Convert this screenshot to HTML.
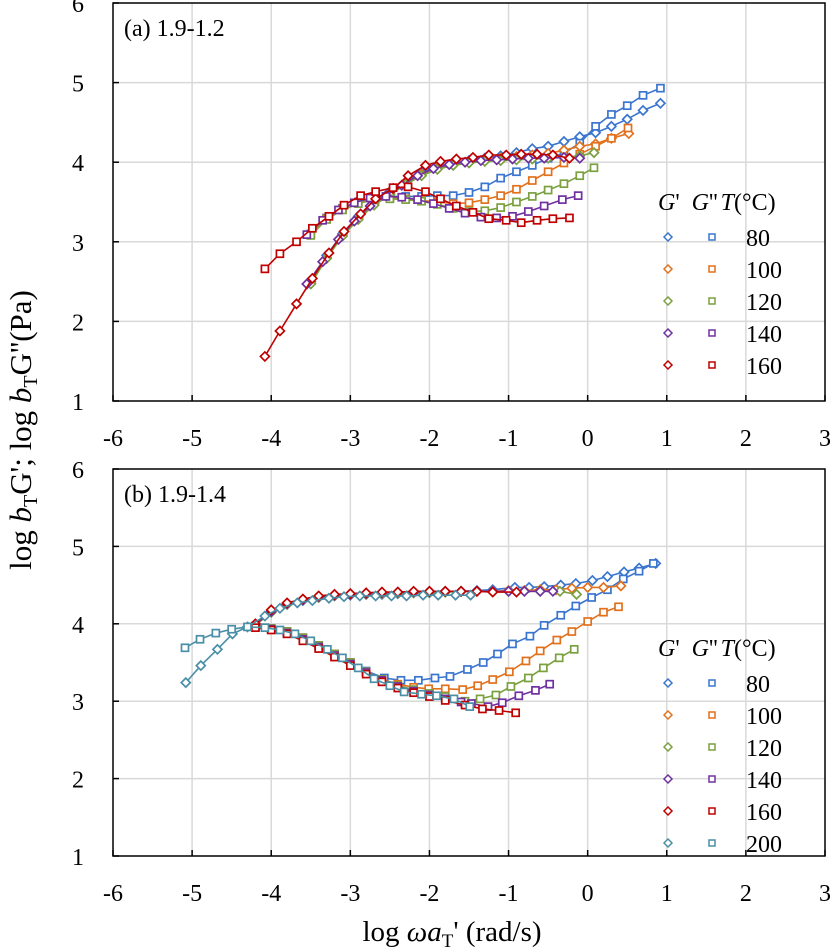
<!DOCTYPE html>
<html><head><meta charset="utf-8">
<style>
html,body{margin:0;padding:0;background:#fff;}
svg{display:block;font-family:"Liberation Serif",serif;}
</style></head>
<body>
<svg id="chart" width="831" height="949" viewBox="0 0 831 949" xmlns="http://www.w3.org/2000/svg">
<text transform="translate(31,430) rotate(-90)" text-anchor="middle" font-size="31">log <tspan font-style="italic">b</tspan><tspan font-size="20" dy="6">T</tspan><tspan dy="-6">G'; log </tspan><tspan font-style="italic">b</tspan><tspan font-size="20" dy="6">T</tspan><tspan dy="-6">G''(Pa)</tspan></text>
<text x="452" y="941" text-anchor="middle" font-size="29">log <tspan font-style="italic">ωa</tspan><tspan font-size="19" dy="6">T</tspan><tspan dy="-6">' (rad/s)</tspan></text>
</svg>
<script>
// ---- data ----
const xTicks = [-6,-5,-4,-3,-2,-1,0,1,2,3];
const yTicks = [1,2,3,4,5,6];
const temps = ["80","100","120","140","160","200"];
const colors = ["#3a75cf","#e2711d","#7aa03f","#7030a0","#c00000","#4a8fa6"];

// Panel (a) 1.9-1.2
const a80Gp  = [[-3.5,2.5],[-3.3,2.83],[-3.1,3.1],[-2.9,3.32],[-2.7,3.5],[-2.5,3.62],[-2.3,3.75],[-2.1,3.87],[-1.9,3.95],[-1.7,3.99],[-1.5,4.02],[-1.3,4.05],[-1.1,4.08],[-0.9,4.12],[-0.7,4.17],[-0.5,4.2],[-0.3,4.26],[-0.1,4.32],[0.1,4.37],[0.3,4.45],[0.5,4.54],[0.7,4.65],[0.92,4.74]];
const a80Gpp = [[-3.5,3.1],[-3.3,3.3],[-3.1,3.42],[-2.9,3.5],[-2.7,3.55],[-2.5,3.57],[-2.3,3.57],[-2.1,3.57],[-1.9,3.58],[-1.7,3.58],[-1.5,3.62],[-1.3,3.69],[-1.1,3.8],[-0.9,3.88],[-0.7,3.96],[-0.5,4.05],[-0.3,4.11],[-0.1,4.24],[0.1,4.45],[0.3,4.6],[0.5,4.71],[0.7,4.84],[0.92,4.93]];
const a100Gp  = [[-3.5,2.48],[-3.3,2.8],[-3.1,3.08],[-2.9,3.3],[-2.7,3.48],[-2.5,3.6],[-2.3,3.73],[-2.1,3.85],[-1.9,3.93],[-1.7,3.98],[-1.5,4.01],[-1.3,4.03],[-1.1,4.05],[-0.9,4.07],[-0.7,4.09],[-0.5,4.11],[-0.3,4.15],[-0.1,4.2],[0.1,4.23],[0.3,4.3],[0.52,4.36]];
const a100Gpp = [[-3.5,3.09],[-3.3,3.29],[-3.1,3.41],[-2.9,3.49],[-2.7,3.54],[-2.5,3.55],[-2.3,3.54],[-2.1,3.52],[-1.9,3.5],[-1.7,3.48],[-1.5,3.49],[-1.3,3.53],[-1.1,3.58],[-0.9,3.66],[-0.7,3.77],[-0.5,3.88],[-0.3,3.99],[-0.1,4.1],[0.1,4.2],[0.3,4.3],[0.51,4.43]];
const a120Gp  = [[-3.5,2.47],[-3.3,2.79],[-3.1,3.07],[-2.9,3.28],[-2.7,3.46],[-2.5,3.59],[-2.3,3.72],[-2.1,3.83],[-1.9,3.91],[-1.7,3.96],[-1.5,3.99],[-1.3,4.01],[-1.1,4.02],[-0.9,4.03],[-0.7,4.04],[-0.5,4.05],[-0.3,4.06],[-0.1,4.08],[0.08,4.12]];
const a120Gpp = [[-3.5,3.08],[-3.3,3.28],[-3.1,3.4],[-2.9,3.48],[-2.7,3.53],[-2.5,3.54],[-2.3,3.53],[-2.1,3.51],[-1.9,3.47],[-1.7,3.42],[-1.5,3.38],[-1.3,3.39],[-1.1,3.43],[-0.9,3.5],[-0.7,3.57],[-0.5,3.65],[-0.3,3.73],[-0.1,3.83],[0.08,3.93]];
const a140Gp  = [[-3.55,2.47],[-3.35,2.75],[-3.15,3.03],[-2.95,3.26],[-2.75,3.45],[-2.55,3.58],[-2.35,3.71],[-2.15,3.83],[-1.95,3.92],[-1.75,3.97],[-1.55,4.0],[-1.35,4.02],[-1.15,4.03],[-0.95,4.04],[-0.75,4.05],[-0.55,4.05],[-0.3,4.06],[-0.1,4.05]];
const a140Gpp = [[-3.55,3.09],[-3.35,3.27],[-3.15,3.4],[-2.95,3.49],[-2.75,3.55],[-2.55,3.57],[-2.35,3.56],[-2.15,3.53],[-1.95,3.48],[-1.75,3.42],[-1.55,3.36],[-1.35,3.31],[-1.15,3.3],[-0.95,3.32],[-0.75,3.38],[-0.55,3.45],[-0.32,3.53],[-0.12,3.58]];
const a160Gp  = [[-4.08,1.56],[-3.89,1.88],[-3.68,2.22],[-3.48,2.54],[-3.27,2.86],[-3.08,3.13],[-2.87,3.35],[-2.68,3.54],[-2.46,3.67],[-2.27,3.83],[-2.05,3.96],[-1.86,4.01],[-1.66,4.04],[-1.45,4.06],[-1.25,4.09],[-1.03,4.09],[-0.84,4.1],[-0.64,4.1],[-0.44,4.09],[-0.23,4.05]];
const a160Gpp = [[-4.08,2.66],[-3.89,2.85],[-3.68,3.0],[-3.48,3.17],[-3.27,3.32],[-3.08,3.46],[-2.87,3.58],[-2.68,3.63],[-2.46,3.68],[-2.27,3.69],[-2.05,3.63],[-1.86,3.54],[-1.66,3.45],[-1.45,3.37],[-1.25,3.29],[-1.03,3.27],[-0.84,3.24],[-0.64,3.27],[-0.44,3.29],[-0.23,3.3]];

// Panel (b) 1.9-1.4
const b80Gp  = [[-4.2,3.98],[-4.0,4.15],[-3.8,4.25],[-3.6,4.3],[-3.4,4.34],[-3.2,4.36],[-3.0,4.37],[-2.8,4.38],[-2.6,4.38],[-2.4,4.39],[-2.2,4.4],[-2.0,4.4],[-1.8,4.41],[-1.6,4.42],[-1.4,4.43],[-1.2,4.44],[-0.92,4.47],[-0.74,4.47],[-0.55,4.48],[-0.34,4.5],[-0.15,4.52],[0.06,4.56],[0.25,4.61],[0.46,4.67],[0.65,4.72],[0.86,4.78]];
const b80Gpp = [[-4.2,3.97],[-4.0,3.94],[-3.8,3.9],[-3.6,3.82],[-3.4,3.72],[-3.2,3.61],[-3.0,3.5],[-2.8,3.39],[-2.57,3.3],[-2.36,3.27],[-2.14,3.27],[-1.93,3.3],[-1.74,3.32],[-1.52,3.41],[-1.32,3.5],[-1.14,3.61],[-0.95,3.74],[-0.73,3.84],[-0.55,3.98],[-0.34,4.11],[-0.15,4.23],[0.05,4.34],[0.25,4.44],[0.45,4.58],[0.65,4.68],[0.83,4.78]];
const b100Gp  = [[-4.2,3.98],[-4.0,4.16],[-3.8,4.26],[-3.6,4.31],[-3.4,4.35],[-3.2,4.37],[-3.0,4.38],[-2.8,4.39],[-2.6,4.39],[-2.4,4.4],[-2.2,4.41],[-2.0,4.41],[-1.8,4.42],[-1.6,4.42],[-1.4,4.42],[-1.2,4.42],[-1.0,4.43],[-0.8,4.43],[-0.6,4.44],[-0.4,4.44],[-0.2,4.46],[0.0,4.47],[0.2,4.47],[0.42,4.49]];
const b100Gpp = [[-4.2,3.97],[-4.0,3.94],[-3.8,3.9],[-3.6,3.82],[-3.4,3.72],[-3.2,3.61],[-3.0,3.5],[-2.8,3.38],[-2.6,3.28],[-2.4,3.22],[-2.2,3.18],[-2.01,3.16],[-1.8,3.16],[-1.58,3.15],[-1.39,3.2],[-1.2,3.28],[-0.99,3.38],[-0.78,3.52],[-0.6,3.65],[-0.39,3.79],[-0.2,3.9],[0.0,4.03],[0.2,4.15],[0.39,4.22]];
const b120Gp  = [[-4.2,3.98],[-4.0,4.15],[-3.8,4.25],[-3.6,4.31],[-3.4,4.34],[-3.2,4.36],[-3.0,4.38],[-2.8,4.38],[-2.6,4.39],[-2.4,4.4],[-2.2,4.4],[-2.0,4.41],[-1.8,4.41],[-1.6,4.42],[-1.4,4.42],[-1.2,4.42],[-1.0,4.42],[-0.8,4.42],[-0.6,4.42],[-0.35,4.42],[-0.14,4.38]];
const b120Gpp = [[-4.2,3.97],[-4.0,3.94],[-3.8,3.9],[-3.6,3.82],[-3.4,3.72],[-3.2,3.61],[-3.0,3.5],[-2.8,3.38],[-2.6,3.28],[-2.4,3.2],[-2.2,3.15],[-2.0,3.1],[-1.8,3.06],[-1.55,3.0],[-1.36,3.03],[-1.16,3.08],[-0.97,3.19],[-0.75,3.3],[-0.56,3.43],[-0.36,3.56],[-0.17,3.67]];
const b140Gp  = [[-4.2,3.99],[-4.0,4.16],[-3.8,4.26],[-3.6,4.31],[-3.4,4.35],[-3.2,4.37],[-3.0,4.38],[-2.8,4.39],[-2.6,4.4],[-2.4,4.41],[-2.2,4.41],[-2.0,4.42],[-1.8,4.42],[-1.6,4.42],[-1.4,4.42],[-1.2,4.42],[-1.0,4.42],[-0.8,4.42],[-0.6,4.42],[-0.44,4.42]];
const b140Gpp = [[-4.2,3.96],[-4.0,3.93],[-3.8,3.88],[-3.6,3.8],[-3.4,3.7],[-3.2,3.59],[-3.0,3.48],[-2.8,3.37],[-2.6,3.27],[-2.4,3.19],[-2.2,3.13],[-2.0,3.08],[-1.8,3.03],[-1.6,2.99],[-1.47,2.97],[-1.26,2.93],[-1.08,2.98],[-0.87,3.07],[-0.66,3.14],[-0.48,3.22]];
const b160Gp  = [[-4.2,4.0],[-4.0,4.18],[-3.8,4.27],[-3.6,4.32],[-3.4,4.36],[-3.2,4.38],[-3.0,4.39],[-2.8,4.4],[-2.6,4.41],[-2.4,4.41],[-2.2,4.42],[-2.0,4.42],[-1.8,4.42],[-1.6,4.42],[-1.4,4.42],[-1.2,4.41],[-0.9,4.41]];
const b160Gpp = [[-4.2,3.95],[-4.0,3.92],[-3.8,3.87],[-3.6,3.78],[-3.4,3.68],[-3.2,3.57],[-3.0,3.46],[-2.8,3.35],[-2.6,3.25],[-2.4,3.17],[-2.2,3.11],[-2.0,3.06],[-1.8,3.01],[-1.55,2.95],[-1.33,2.9],[-1.12,2.88],[-0.91,2.85]];
const b200Gp  = [[-5.08,3.24],[-4.89,3.46],[-4.68,3.67],[-4.49,3.87],[-4.3,3.96],[-4.08,4.1],[-3.89,4.2],[-3.67,4.27],[-3.48,4.3],[-3.27,4.33],[-3.08,4.35],[-2.88,4.36],[-2.68,4.36],[-2.48,4.36],[-2.29,4.36],[-2.08,4.37],[-1.89,4.37],[-1.67,4.37],[-1.48,4.37]];
const b200Gpp = [[-5.09,3.69],[-4.9,3.8],[-4.7,3.88],[-4.5,3.93],[-4.3,3.96],[-4.08,3.95],[-3.89,3.92],[-3.7,3.87],[-3.5,3.78],[-3.29,3.67],[-3.1,3.56],[-2.9,3.43],[-2.7,3.29],[-2.5,3.2],[-2.32,3.12],[-2.1,3.09],[-1.91,3.07],[-1.69,3.03],[-1.49,2.93]];

const panelA = [[a80Gp,a80Gpp],[a100Gp,a100Gpp],[a120Gp,a120Gpp],[a140Gp,a140Gpp],[a160Gp,a160Gpp]];
const panelB = [[b80Gp,b80Gpp],[b100Gp,b100Gpp],[b120Gp,b120Gpp],[b140Gp,b140Gpp],[b160Gp,b160Gpp],[b200Gp,b200Gpp]];

// ---- drawing ----
const NS = "http://www.w3.org/2000/svg";
const svg = document.getElementById("chart");
function mk(tag, attrs, parent){
  const e = document.createElementNS(NS, tag);
  for (const k in attrs) e.setAttribute(k, attrs[k]);
  (parent||svg).appendChild(e);
  return e;
}
const X0 = 113, X1 = 825;
function xScale(v){ return X0 + (v - (-6)) / 9 * (X1 - X0); }

function drawPanel(top, bottom, series, label, legendTop, key){
  const yScale = v => bottom - (v - 1) / 5 * (bottom - top);
  const g = mk("g", {});
  
  
  xTicks.forEach(t => {
    if (t === -6 || t === 3) return;
    const l = mk("line", {x1:xScale(t), x2:xScale(t), y1:top, y2:bottom, stroke:"#d9d9d9", "stroke-width":1.5}, g);
    
    
  });
  yTicks.forEach(t => {
    if (t === 1 || t === 6) return;
    const l = mk("line", {x1:X0, x2:X1, y1:yScale(t), y2:yScale(t), stroke:"#d9d9d9", "stroke-width":1.5}, g);
    
    
  });
  const fr = mk("rect", {x:X0, y:top, width:X1-X0, height:bottom-top, fill:"none", stroke:"#000", "stroke-width":1.5}, g);
  
  
  xTicks.forEach(t => {
    mk("line", {x1:xScale(t), x2:xScale(t), y1:bottom, y2:bottom-6, stroke:"#000", "stroke-width":1.5}, g);
    const tx = mk("text", {x:xScale(t), y:bottom+45, "text-anchor":"middle", "font-size":24}, g);
    tx.textContent = t;
    
    
  });
  yTicks.forEach(t => {
    mk("line", {x1:X0, x2:X0+6, y1:yScale(t), y2:yScale(t), stroke:"#000", "stroke-width":1.5}, g);
    const tx = mk("text", {x:78, y:yScale(t)+9, "text-anchor":"middle", "font-size":24}, g);
    tx.textContent = t;
    
    
  });
  const pl = mk("text", {x:124, y:top+33, "font-size":24}, g);
  pl.textContent = label;
  
  
  series.forEach((pair, i) => {
    pair.forEach((pts, j) => {
      const sg = mk("g", {}, g);
      
      
      const d = pts.map((p,k) => (k?"L":"M") + xScale(p[0]).toFixed(1) + "," + yScale(p[1]).toFixed(1)).join("");
      mk("path", {d:d, fill:"none", stroke:colors[i], "stroke-width":1.6}, sg);
      pts.forEach(p => {
        const cx = xScale(p[0]), cy = yScale(p[1]);
        let m;
        if (j === 0) m = mk("path", {d:`M${cx},${cy-4.5}L${cx+4.5},${cy}L${cx},${cy+4.5}L${cx-4.5},${cy}Z`, fill:"#fff", stroke:colors[i], "stroke-width":1.7}, sg);
        else m = mk("rect", {x:cx-3.5, y:cy-3.5, width:7, height:7, fill:"#fff", stroke:colors[i], "stroke-width":1.7}, sg);
        
        
      });
    });
  });
  const lg = mk("g", {}, g);
  
  
  const h = mk("text", {x:658, y:legendTop, "font-size":24}, lg);
  h.innerHTML = '<tspan font-style="italic">G</tspan>\'<tspan dx="12" font-style="italic">G</tspan>\'\'<tspan dx="3" font-style="italic">T</tspan>(°C)';
  
  
  series.forEach((pair, i) => {
    const cy = legendTop + 27 + i * 32;
    const e = mk("g", {}, lg);
    
    
    mk("path", {d:`M668,${cy-4}L672,${cy}L668,${cy+4}L664,${cy}Z`, fill:"#fff", stroke:colors[i], "stroke-width":1.5}, e);
    mk("rect", {x:709, y:cy-3, width:6, height:6, fill:"#fff", stroke:colors[i], "stroke-width":1.5}, e);
    const t = mk("text", {x:746, y:cy+9, "font-size":24}, e);
    t.textContent = temps[i];
  });
}
drawPanel(3, 401, panelA, "(a) 1.9-1.2", 210, "a");
drawPanel(469, 856, panelB, "(b) 1.9-1.4", 656, "b");
</script>
</body></html>
